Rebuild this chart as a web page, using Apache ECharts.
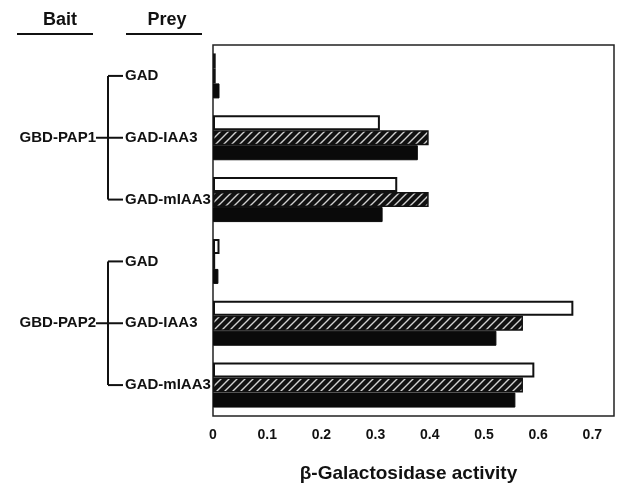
<!DOCTYPE html>
<html>
<head>
<meta charset="utf-8">
<script src="https://cdn.jsdelivr.net/npm/echarts@6/dist/echarts.min.js"></script>
<style>
html,body{margin:0;padding:0;background:#fff;}
#c{width:622px;height:488px;}
</style>
</head>
<body>
<div id="c"></div>
<script>
// ---- data ----
const baits = ['GBD-PAP1', 'GBD-PAP1', 'GBD-PAP1', 'GBD-PAP2', 'GBD-PAP2', 'GBD-PAP2'];
const preys = ['GAD', 'GAD-IAA3', 'GAD-mIAA3', 'GAD', 'GAD-IAA3', 'GAD-mIAA3'];
const categories = preys.map((p, i) => baits[i] + ' / ' + p);
const whiteVals   = [0.005, 0.308, 0.340, 0.012, 0.665, 0.593];
const hatchedVals = [0.005, 0.398, 0.398, 0.004, 0.572, 0.572];
const blackVals   = [0.012, 0.378, 0.313, 0.010, 0.523, 0.558];
const xTicks = [0, 0.1, 0.2, 0.3, 0.4, 0.5, 0.6, 0.7];
const axisTitle = 'β-Galactosidase activity';

// ---- hatch pattern ----
const pc = document.createElement('canvas');
pc.width = 8; pc.height = 8;
const g = pc.getContext('2d');
g.fillStyle = '#111'; g.fillRect(0, 0, 8, 8);
g.strokeStyle = '#d0d0d0'; g.lineWidth = 1.4;
g.beginPath();
g.moveTo(-1, 9); g.lineTo(9, -1);
g.moveTo(-5, 5); g.lineTo(5, -5);
g.moveTo(3, 13); g.lineTo(13, 3);
g.stroke();

const FONT = 'Liberation Sans, Arial, sans-serif';
const chart = echarts.init(document.getElementById('c'), null, {renderer: 'canvas'});

const option = {
  animation: false,
  backgroundColor: '#fff',
  grid: {left: 213, right: 8, top: 45, bottom: 66, show: true, borderColor: '#222', borderWidth: 1.5},
  xAxis: {
    type: 'value', min: 0, max: 0.74, interval: 0.1,
    axisLine: {show: false}, axisTick: {show: false}, splitLine: {show: false},
    axisLabel: {
      showMaxLabel: false, margin: 12,
      fontFamily: FONT, fontSize: 14, fontWeight: 'bold', color: '#111',
      formatter: v => (xTicks.some(t => Math.abs(t - v) < 1e-9) ? String(+v.toFixed(1)) : '')
    },
    name: axisTitle, nameLocation: 'middle', nameGap: 48,
    nameTextStyle: {fontFamily: FONT, fontSize: 19, fontWeight: 'bold', color: '#111', padding: [0, 10, 0, 0]}
  },
  yAxis: {
    type: 'category', data: categories, inverse: true,
    axisLine: {show: false}, axisTick: {show: false},
    axisLabel: {
      align: 'left', margin: 88,
      fontFamily: FONT, fontSize: 15, fontWeight: 'bold', color: '#111',
      formatter: (v, i) => preys[i]
    }
  },
  series: [
    {type: 'bar', data: whiteVals, barWidth: 15, barGap: '0%',
     itemStyle: {color: '#fff', borderColor: '#111', borderWidth: 2}},
    {type: 'bar', data: hatchedVals, barWidth: 15, barGap: '0%',
     itemStyle: {color: {image: pc, repeat: 'repeat'}, borderColor: '#111', borderWidth: 1.5}},
    {type: 'bar', data: blackVals, barWidth: 15, barGap: '0%',
     itemStyle: {color: '#0a0a0a', borderColor: '#0a0a0a', borderWidth: 1}}
  ]
};
chart.setOption(option);

// ---- bracket annotations (positions from the axis) ----
function yOf(i) { return chart.convertToPixel({yAxisIndex: 0}, categories[i]); }
const els = [];
const lineStyle = {stroke: '#111', lineWidth: 2};
const vx = 108, tx = 123, lx = 96;
const groups = {};
baits.forEach((b, i) => { (groups[b] = groups[b] || []).push(i); });
Object.keys(groups).forEach(b => {
  const idx = groups[b];
  const y0 = yOf(idx[0]), y1 = yOf(idx[idx.length - 1]);
  const ym = yOf(idx[Math.floor(idx.length / 2)]);
  els.push({type: 'line', shape: {x1: vx, y1: y0, x2: vx, y2: y1}, style: lineStyle});
  idx.forEach(i => {
    const y = yOf(i);
    els.push({type: 'line', shape: {x1: vx, y1: y, x2: tx, y2: y}, style: lineStyle});
  });
  els.push({type: 'line', shape: {x1: lx, y1: ym, x2: vx, y2: ym}, style: lineStyle});
  els.push({type: 'text', x: lx, y: ym, style: {text: b, align: 'right', verticalAlign: 'middle',
    font: 'bold 15px ' + FONT, fill: '#111'}});
});
// column headers
els.push({type: 'text', x: 60, y: 20, style: {text: 'Bait', align: 'center', verticalAlign: 'middle', font: 'bold 18px ' + FONT, fill: '#111'}});
els.push({type: 'text', x: 167, y: 20, style: {text: 'Prey', align: 'center', verticalAlign: 'middle', font: 'bold 18px ' + FONT, fill: '#111'}});
els.push({type: 'line', shape: {x1: 17, y1: 34, x2: 93, y2: 34}, style: {stroke: '#111', lineWidth: 2}});
els.push({type: 'line', shape: {x1: 126, y1: 34, x2: 202, y2: 34}, style: {stroke: '#111', lineWidth: 2}});
chart.setOption({graphic: {elements: els}});
</script>
</body>
</html>
